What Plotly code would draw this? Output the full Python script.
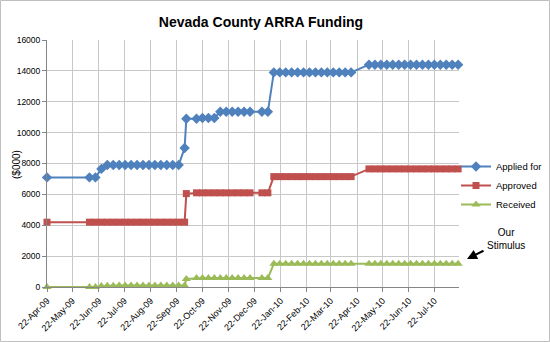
import plotly.graph_objects as go

dates = [
    "2009-04-22", "2009-06-11", "2009-06-18", "2009-06-25", "2009-07-02", "2009-07-09",
    "2009-07-16", "2009-07-23", "2009-07-30", "2009-08-06", "2009-08-13", "2009-08-20",
    "2009-08-27", "2009-09-03", "2009-09-10", "2009-09-17", "2009-09-24", "2009-10-01",
    "2009-10-03", "2009-10-15", "2009-10-22", "2009-10-29", "2009-11-05", "2009-11-12",
    "2009-11-19", "2009-11-26", "2009-12-03", "2009-12-10", "2009-12-17", "2009-12-31",
    "2010-01-07", "2010-01-14", "2010-01-21", "2010-01-28", "2010-02-04", "2010-02-11",
    "2010-02-18", "2010-02-25", "2010-03-04", "2010-03-11", "2010-03-18", "2010-03-25",
    "2010-04-01", "2010-04-08", "2010-04-15", "2010-05-06", "2010-05-13", "2010-05-20",
    "2010-05-27", "2010-06-03", "2010-06-10", "2010-06-17", "2010-06-24", "2010-07-01",
    "2010-07-08", "2010-07-15", "2010-07-22", "2010-07-29", "2010-08-05", "2010-08-12",
    "2010-08-19",
]

applied_for = [
    7100, 7100, 7100, 7650, 7900, 7900, 7900, 7900, 7900, 7900, 7900, 7900, 7900, 7900,
    7900, 7900, 7900, 9000, 10900, 10900, 10950, 10950, 10950, 11350, 11350, 11350, 11350,
    11350, 11350, 11350, 11350, 13900, 13900, 13900, 13900, 13900, 13900, 13900, 13900,
    13900, 13900, 13900, 13900, 13900, 13900, 14400, 14400, 14400, 14400, 14400, 14400,
    14400, 14400, 14400, 14400, 14400, 14400, 14400, 14400, 14400, 14400,
]

approved = [
    4200, 4200, 4200, 4200, 4200, 4200, 4200, 4200, 4200, 4200, 4200, 4200, 4200, 4200,
    4200, 4200, 4200, 4200, 6050, 6100, 6100, 6100, 6100, 6100, 6100, 6100, 6100, 6100,
    6100, 6100, 6100, 7150, 7150, 7150, 7150, 7150, 7150, 7150, 7150, 7150, 7150, 7150,
    7150, 7150, 7150, 7650, 7650, 7650, 7650, 7650, 7650, 7650, 7650, 7650, 7650, 7650,
    7650, 7650, 7650, 7650, 7650,
]

received = [
    0, 0, 0, 60, 80, 80, 90, 90, 100, 100, 100, 100, 100, 100, 100, 100, 100, 100, 520,
    580, 580, 580, 580, 580, 580, 580, 580, 580, 580, 580, 580, 1500, 1500, 1500, 1500,
    1500, 1500, 1500, 1500, 1500, 1500, 1500, 1500, 1500, 1500, 1500, 1500, 1500, 1500,
    1500, 1500, 1500, 1500, 1500, 1500, 1500, 1500, 1500, 1500, 1500, 1500,
]

tick_dates = [
    "2009-04-22", "2009-05-22", "2009-06-22", "2009-07-22", "2009-08-22", "2009-09-22",
    "2009-10-22", "2009-11-22", "2009-12-22", "2010-01-22", "2010-02-22", "2010-03-22",
    "2010-04-22", "2010-05-22", "2010-06-22", "2010-07-22",
]
tick_labels = [
    "22-Apr-09", "22-May-09", "22-Jun-09", "22-Jul-09", "22-Aug-09", "22-Sep-09",
    "22-Oct-09", "22-Nov-09", "22-Dec-09", "22-Jan-10", "22-Feb-10", "22-Mar-10",
    "22-Apr-10", "22-May-10", "22-Jun-10", "22-Jul-10",
]
y_ticks = [0, 2000, 4000, 6000, 8000, 10000, 12000, 14000, 16000]
y_tick_labels = ["0", "2000", "4000", "6000", "8000", "10000", "12000", "14000", "16000"]

FONT = "Liberation Sans"
W, H = 550, 342
L, R, T, B = 47, 91, 40, 55
PW, PH = W - L - R, H - T - B


def px(x):
    return (x - L) / PW


def py(y):
    return (H - B - y) / PH


fig = go.Figure()
fig.add_trace(go.Scatter(
    x=dates, y=applied_for, name="Applied for", mode="lines+markers",
    line=dict(color="#4F81BD", width=2),
    marker=dict(symbol="diamond", size=8, color="#4F81BD"),
    cliponaxis=False,
))
fig.add_trace(go.Scatter(
    x=dates, y=approved, name="Approved", mode="lines+markers",
    line=dict(color="#C0504D", width=2),
    marker=dict(symbol="square", size=7, color="#C0504D"),
    cliponaxis=False,
))
fig.add_trace(go.Scatter(
    x=dates, y=received, name="Received", mode="lines+markers",
    line=dict(color="#9BBB59", width=2),
    marker=dict(symbol="triangle-up", size=8, color="#9BBB59"),
    cliponaxis=False,
))

fig.update_layout(
    width=W, height=H, autosize=False,
    margin=dict(l=L, r=R, t=T, b=B, pad=0, autoexpand=False),
    paper_bgcolor="white", plot_bgcolor="white",
    font=dict(family=FONT, size=9, color="black"),
    title=dict(text="<b>Nevada County ARRA Funding</b>", x=261 / W, xanchor="center",
               y=1 - 22 / H, yanchor="middle", font=dict(size=14, family=FONT)),
    legend=dict(x=px(456), y=py(152), xanchor="left", yanchor="top",
                font=dict(size=9.5, family=FONT), itemwidth=30,
                bgcolor="rgba(0,0,0,0)", tracegroupgap=0),
    showlegend=True,
)
fig.update_xaxes(
    type="date", range=["2009-04-22", "2010-08-20"],
    tickmode="array", tickvals=tick_dates, ticktext=tick_labels, tickangle=-45,
    showgrid=True, gridcolor="#C8C8C8", gridwidth=1,
    showline=True, linecolor="#868686", linewidth=1,
    ticks="outside", ticklen=4, tickcolor="#868686",
    tickfont=dict(size=9), zeroline=False, automargin=False,
)
fig.update_yaxes(
    range=[0, 16000], tickmode="array", tickvals=y_ticks, ticktext=y_tick_labels,
    showgrid=True, gridcolor="#C8C8C8", gridwidth=1,
    showline=True, linecolor="#868686", linewidth=1,
    ticks="outside", ticklen=4, tickcolor="#868686",
    tickfont=dict(size=8.5), zeroline=False, automargin=False,
)

fig.add_annotation(x=px(16), y=py(165), xref="paper", yref="paper", text="($000)",
                   textangle=-90, showarrow=False, font=dict(size=10),
                   xanchor="center", yanchor="middle")
fig.add_annotation(x=px(506), y=py(239), xref="paper", yref="paper",
                   text="Our<br>Stimulus", showarrow=False, font=dict(size=10),
                   align="center", xanchor="center", yanchor="middle")
fig.add_annotation(x=px(467), y=py(259), xref="paper", yref="paper", text="",
                   showarrow=True, arrowhead=2, arrowsize=1, arrowwidth=2,
                   arrowcolor="black", ax=18, ay=-9)

fig.add_shape(type="rect", xref="paper", yref="paper",
              x0=px(0.5), x1=px(549.5), y0=py(341.5), y1=py(0.5),
              line=dict(color="#BFBFBF", width=1), layer="below")

fig.write_html("out.html")
